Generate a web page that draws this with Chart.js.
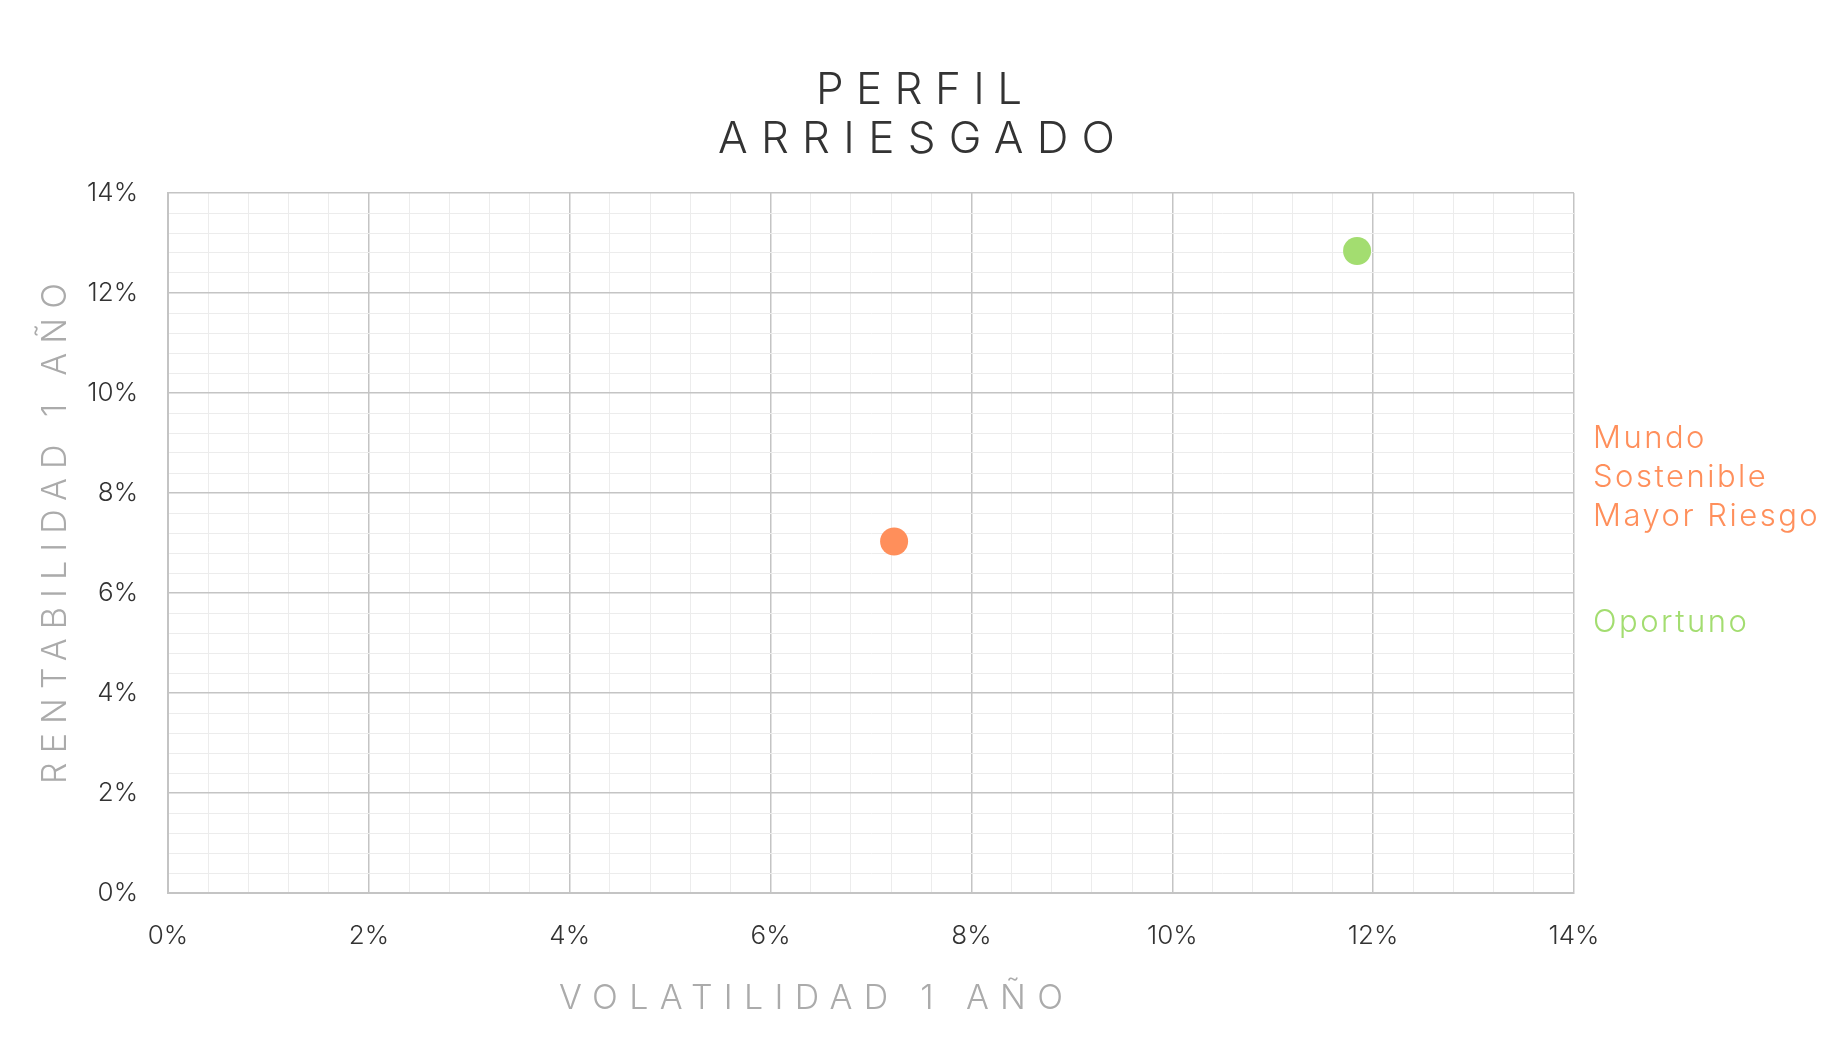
<!DOCTYPE html>
<html>
<head>
<meta charset="utf-8">
<title>Perfil Arriesgado</title>
<script src="https://cdn.jsdelivr.net/npm/chart.js@4.4.1/dist/chart.umd.min.js"></script>
<style>
  html, body { margin: 0; padding: 0; background: #fff; }
  #wrap { width: 1840px; height: 1056px; position: relative; }
</style>
</head>
<body>
<div id="wrap"><canvas id="chartPerfil"></canvas></div>
<script>
/* datos */
const fondos = ["Mundo Sostenible Mayor Riesgo", "Oportuno"];
const fondosLineas = [["Mundo", "Sostenible", "Mayor Riesgo"], ["Oportuno"]];
const volatilidad = [7.23, 11.84];
const rentabilidad = [7.03, 12.84];
const colores = ["#ff8f5b", "#a3dd70"];
const ticksX = [0, 2, 4, 6, 8, 10, 12, 14];
const ticksY = [0, 2, 4, 6, 8, 10, 12, 14];
const titulo = ["PERFIL", "ARRIESGADO"];
const tituloX = "VOLATILIDAD 1 AÑO";
const tituloY = "RENTABILIDAD 1 AÑO";

const FUENTE = "Inter, 'Noto Sans', sans-serif";

function esMayor(v, lista) {
  return lista.includes(Math.round(v * 10) / 10);
}

// texto con espaciado entre letras, ajustado a un ancho
function espaciado(ctx, texto, x, y, ancho, font) {
  ctx.font = font;
  ctx.letterSpacing = "0px";
  const w = ctx.measureText(texto).width;
  const sp = (ancho - w) / (texto.length - 1);
  ctx.letterSpacing = sp + "px";
  ctx.textAlign = "left";
  ctx.fillText(texto, x, y);
  ctx.letterSpacing = "0px";
}

const textos = {
  id: "textos",
  afterDraw(chart) {
    const ctx = chart.ctx;
    const area = chart.chartArea;
    ctx.save();
    ctx.textBaseline = "alphabetic";

    /* titulo */
    ctx.fillStyle = "#333333";
    espaciado(ctx, titulo[0], 816, 104, 206, "300 44px " + FUENTE);
    espaciado(ctx, titulo[1], 718, 153, 397, "300 44px " + FUENTE);

    /* titulos de ejes */
    ctx.fillStyle = "#ababab";
    espaciado(ctx, tituloX, 559, 1009, 504, "300 34px " + FUENTE);
    ctx.save();
    ctx.translate(66, 784);
    ctx.rotate(-Math.PI / 2);
    espaciado(ctx, tituloY, 0, 0, 501, "300 34px " + FUENTE);
    ctx.restore();

    /* etiquetas de fondos a la derecha */
    ctx.font = "300 31px " + FUENTE;
    ctx.letterSpacing = "2.5px";
    ctx.textAlign = "left";
    let y = 448;
    fondosLineas.forEach(function (lineas, i) {
      ctx.fillStyle = colores[i];
      lineas.forEach(function (l) {
        ctx.fillText(l, area.right + 19, y);
        y += 39;
      });
      y += 67;
    });
    ctx.letterSpacing = "0px";
    ctx.restore();
  }
};

const cPerfil = document.getElementById("chartPerfil");
new Chart(cPerfil, {
  type: "scatter",
  data: {
    datasets: fondos.map(function (nombre, i) {
      return {
        label: nombre,
        data: [{ x: volatilidad[i], y: rentabilidad[i] }],
        backgroundColor: colores[i],
        borderWidth: 0,
        pointRadius: 14,
        pointHoverRadius: 14,
      };
    }),
  },
  options: {
    responsive: true,
    maintainAspectRatio: false,
    animation: false,
    events: [],
    layout: {
      padding: { top: 193, right: 266, left: 0, bottom: 0 },
    },
    plugins: {
      legend: { display: false },
      title: { display: false },
      tooltip: { enabled: false },
    },
    scales: {
      x: {
        type: "linear",
        min: 0,
        max: 14,
        afterFit: function (s) { s.height = 163; },
        ticks: {
          stepSize: 0.4,
          autoSkip: false,
          maxRotation: 0,
          padding: 28,
          color: "#333333",
          font: { family: FUENTE, size: 26, weight: "300" },
          callback: function (v) { return esMayor(v, ticksX) ? Math.round(v) + "%" : ""; },
        },
        grid: {
          drawTicks: false,
          color: function (c) { return esMayor(c.tick.value, ticksX) ? "#c4c4c4" : "#ececec"; },
          lineWidth: function (c) { return esMayor(c.tick.value, ticksX) ? 1.5 : 1; },
        },
        border: { color: "#c4c4c4", width: 2 },
      },
      y: {
        type: "linear",
        min: 0,
        max: 14,
        afterFit: function (s) { s.width = 168; },
        ticks: {
          stepSize: 0.4,
          autoSkip: false,
          padding: 30,
          color: "#333333",
          font: { family: FUENTE, size: 26, weight: "300" },
          callback: function (v) { return esMayor(v, ticksY) ? Math.round(v) + "%" : ""; },
        },
        grid: {
          drawTicks: false,
          color: function (c) { return esMayor(c.tick.value, ticksY) ? "#c4c4c4" : "#ececec"; },
          lineWidth: function (c) { return esMayor(c.tick.value, ticksY) ? 1.5 : 1; },
        },
        border: { color: "#c4c4c4", width: 2 },
      },
    },
  },
  plugins: [textos],
});
</script>
</body>
</html>
